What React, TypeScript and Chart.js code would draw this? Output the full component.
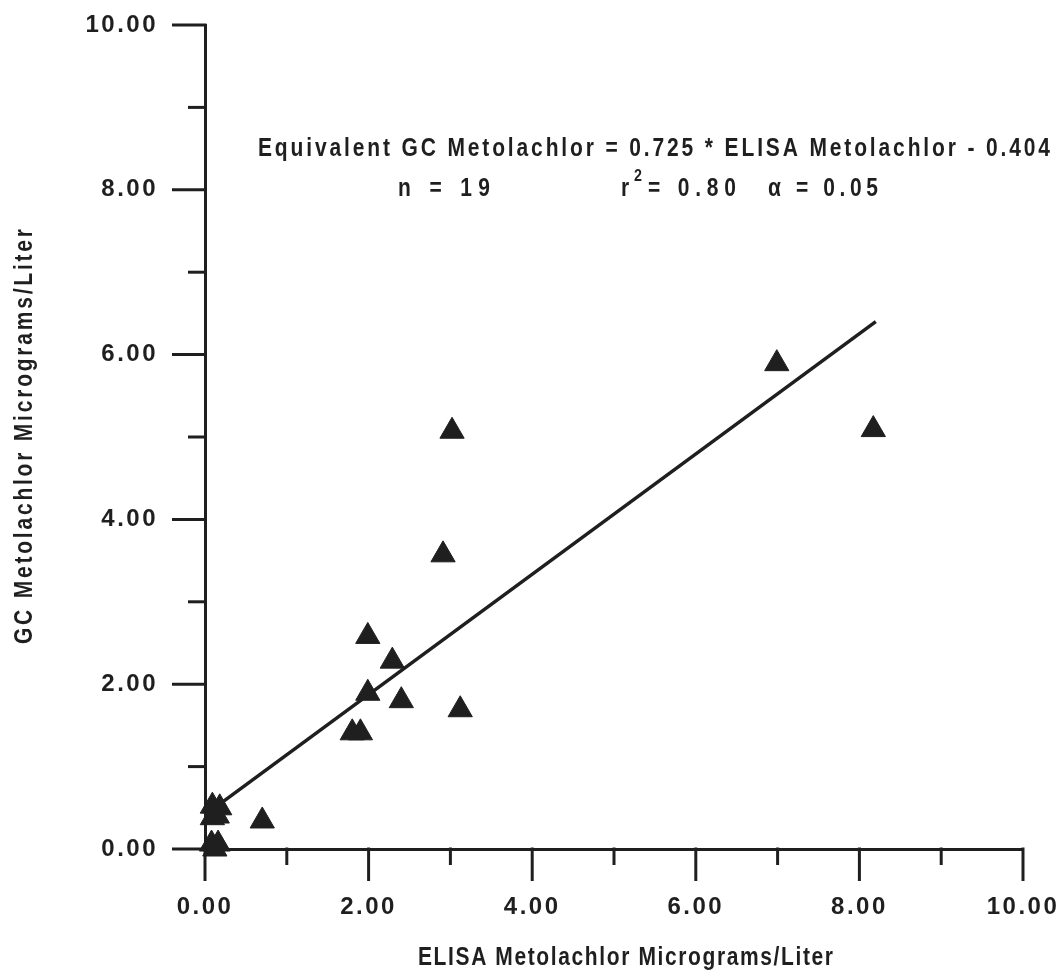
import React, { useEffect, useRef } from "react";
import { Chart, registerables } from "chart.js";

Chart.register(...registerables);

// ---- data ----
const elisaValues = [0.09, 0.18, 0.09, 0.15, 0.08, 0.16, 0.12, 0.7, 1.8, 1.9, 1.99, 1.99, 2.29, 2.4, 2.91, 3.02, 3.12, 6.99, 8.17];
const gcValues = [0.52, 0.5, 0.38, 0.4, 0.06, 0.06, 0.0, 0.34, 1.41, 1.41, 1.89, 2.58, 2.28, 1.8, 3.57, 5.07, 1.69, 5.89, 5.09];
const fitLineX = [0.2, 8.2];
const fitLineY = [0.56, 6.4];
const axisMin = 0;
const axisMax = 10;
const majorTicks = [0, 2, 4, 6, 8, 10];
const minorTicks = [1, 3, 5, 7, 9];
const xTitle = "ELISA Metolachlor Micrograms/Liter";
const yTitle = "GC Metolachlor Micrograms/Liter";
const equationText = "Equivalent GC Metolachlor = 0.725 * ELISA Metolachlor - 0.404";
const nText = "n = 19";
const rText = "r";
const rSup = "2";
const rValueText = "= 0.80";
const alphaText = "\u03B1 = 0.05";

const INK = "#1f1f1f";
const FAMILY = '"Liberation Sans", Arial, Helvetica, sans-serif';
const TICK_SIZE = 24;
const TEXT_SIZE = 25;
const NARROW = 0.84;

// draws text condensed horizontally, tracked so it spans [left, right]
function fitText(ctx: CanvasRenderingContext2D, text: string, left: number, right: number, y: number, font: string) {
  ctx.save();
  ctx.font = font;
  (ctx as any).letterSpacing = "0px";
  const w = ctx.measureText(text).width;
  const target = (right - left) / NARROW;
  const sp = text.length > 1 ? (target - w) / (text.length - 1) : 0;
  (ctx as any).letterSpacing = sp + "px";
  ctx.textAlign = "left";
  ctx.textBaseline = "middle";
  ctx.translate(left, y);
  ctx.scale(NARROW, 1);
  ctx.fillText(text, 0, 0);
  ctx.restore();
  (ctx as any).letterSpacing = "0px";
}

function plainText(ctx: CanvasRenderingContext2D, text: string, left: number, y: number, font: string) {
  ctx.save();
  ctx.font = font;
  ctx.textAlign = "left";
  ctx.textBaseline = "middle";
  ctx.translate(left, y);
  ctx.scale(NARROW, 1);
  ctx.fillText(text, 0, 0);
  ctx.restore();
}

const decorPlugin = {
  id: "decor",
  beforeDraw(chart: any) {
    const ctx = chart.ctx as CanvasRenderingContext2D;
    ctx.font = `bold ${TICK_SIZE}px ${FAMILY}`;
    (ctx as any).letterSpacing = "0px";
    const w = ctx.measureText("10.00").width;
    (ctx as any).letterSpacing = Math.max(0, (70 - w) / 4) + "px";
  },
  afterDraw(chart: any) {
    const ctx = chart.ctx as CanvasRenderingContext2D;
    (ctx as any).letterSpacing = "0px";
    const xs = chart.scales.x;
    const ys = chart.scales.y;
    const left = chart.chartArea.left;
    const bottom = chart.chartArea.bottom;
    ctx.save();
    ctx.strokeStyle = INK;
    ctx.lineWidth = 3;
    ctx.lineCap = "butt";
    const drawTick = (x1: number, y1: number, x2: number, y2: number) => {
      ctx.beginPath();
      ctx.moveTo(x1, y1);
      ctx.lineTo(x2, y2);
      ctx.stroke();
    };
    majorTicks.forEach((v) => {
      const py = ys.getPixelForValue(v);
      drawTick(left - 33, py, left + 1.5, py);
      const px = xs.getPixelForValue(v);
      drawTick(px, bottom - 1.5, px, bottom + 32);
    });
    minorTicks.forEach((v) => {
      const py = ys.getPixelForValue(v);
      drawTick(left - 17, py, left + 1.5, py);
      const px = xs.getPixelForValue(v);
      drawTick(px, bottom - 1.5, px, bottom + 16);
    });

    ctx.fillStyle = INK;
    const f = `bold ${TEXT_SIZE}px ${FAMILY}`;
    // axis titles
    fitText(ctx, xTitle, 418, 833, 958, f);
    ctx.save();
    ctx.translate(25, 437);
    ctx.rotate(-Math.PI / 2);
    fitText(ctx, yTitle, -207, 208, 0, f);
    ctx.restore();

    // annotation
    fitText(ctx, equationText, 258, 1050, 149, f);
    fitText(ctx, nText, 398, 490, 189, f);
    plainText(ctx, rText, 621, 189, f);
    plainText(ctx, rSup, 634, 176, `bold 17px ${FAMILY}`);
    fitText(ctx, rValueText, 648, 736, 189, f);
    fitText(ctx, alphaText, 768, 878, 189, f);
    ctx.restore();
  },
};

export default function App() {
  const ref = useRef<HTMLCanvasElement>(null);
  useEffect(() => {
    const points = elisaValues.map((x, i) => ({ x, y: gcValues[i] }));
    const fitPoints = fitLineX.map((x, i) => ({ x, y: fitLineY[i] }));
    const tickFont = { family: FAMILY, size: TICK_SIZE, weight: "bold" as const };
    const chart = new Chart(ref.current as HTMLCanvasElement, {
      type: "scatter",
      data: {
        datasets: [
          {
            type: "line",
            label: "fit",
            data: fitPoints,
            borderColor: INK,
            borderWidth: 3.5,
            pointRadius: 0,
            fill: false,
            clip: false,
            order: 1,
          } as any,
          {
            type: "scatter",
            label: "samples",
            data: points,
            pointStyle: "triangle",
            pointRadius: 14,
            pointBackgroundColor: INK,
            pointBorderColor: INK,
            pointBorderWidth: 1,
            clip: false,
            order: 0,
          } as any,
        ],
      },
      options: {
        responsive: false,
        animation: false,
        devicePixelRatio: 1,
        layout: { padding: { top: 25, right: 40, left: 0, bottom: 0 } },
        plugins: { legend: { display: false }, tooltip: { enabled: false } },
        events: [],
        scales: {
          x: {
            type: "linear",
            min: axisMin,
            max: axisMax,
            grid: { display: false, drawTicks: false },
            border: { display: true, color: INK, width: 3 },
            ticks: {
              stepSize: 2,
              color: INK,
              font: tickFont,
              padding: 44,
              maxRotation: 0,
              callback: (v: any) => Number(v).toFixed(2),
            },
            afterFit: (s: any) => {
              s.height = 129;
              s.paddingLeft = 0;
              s.paddingRight = 0;
            },
          },
          y: {
            type: "linear",
            min: axisMin,
            max: axisMax,
            grid: { display: false, drawTicks: false },
            border: { display: true, color: INK, width: 3 },
            ticks: {
              stepSize: 2,
              color: INK,
              font: tickFont,
              padding: 47,
              callback: (v: any) => Number(v).toFixed(2),
            },
            afterFit: (s: any) => {
              s.width = 205;
              s.paddingTop = 0;
              s.paddingBottom = 0;
            },
          },
        },
      },
      plugins: [decorPlugin],
    } as any);
    return () => chart.destroy();
  }, []);
  return (
    <div style={{ position: "absolute", left: 0, top: 0, width: 1063, height: 978, background: "#fff" }}>
      <canvas ref={ref} width={1063} height={978} style={{ display: "block", width: 1063, height: 978 }} />
    </div>
  );
}
